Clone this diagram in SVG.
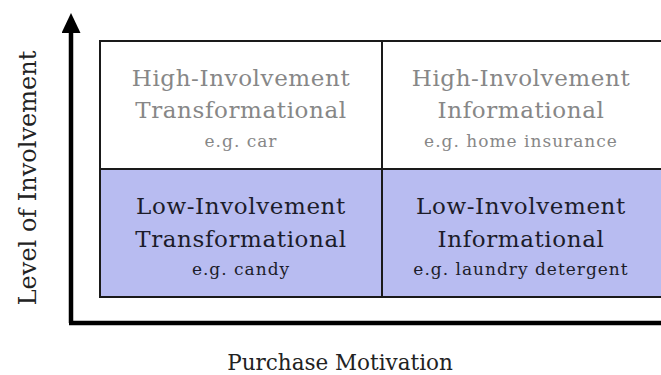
<svg xmlns="http://www.w3.org/2000/svg" width="661" height="375" viewBox="0 0 661 375">
  <style>
    .cell { stroke: #1a1a1a; stroke-width: 2; }
    .hi { fill: #ffffff; }
    .lo { fill: #b8bcf1; }
    .t { font-family: "DejaVu Serif", "Liberation Serif", serif; text-anchor: middle; }
    .big { font-size: 23px; letter-spacing: 0.6px; }
    .small { font-size: 17px; letter-spacing: 1px; }
    .gray { fill: #878787; }
    .dark { fill: #1c1c2a; }
    .axis { font-family: "DejaVu Serif", "Liberation Serif", serif; fill: #222; text-anchor: middle; }
  </style>
  <defs>
    <marker id="arrow" markerWidth="20" markerHeight="20" refX="0" refY="9.5" orient="auto" markerUnits="userSpaceOnUse">
      <path d="M0,0 L20,9.5 L0,19 Z" fill="#000"/>
    </marker>
  </defs>
  <rect width="661" height="375" fill="#ffffff"/>

  <g id="quadrant-high-transformational">
    <rect class="cell hi" x="100" y="41" width="282" height="128"/>
    <text class="t big gray" x="241" y="86">High-Involvement</text>
    <text class="t big gray" x="241" y="118">Transformational</text>
    <text class="t small gray" x="241" y="147">e.g. car</text>
  </g>
  <g id="quadrant-high-informational">
    <rect class="cell hi" x="382" y="41" width="290" height="128"/>
    <text class="t big gray" x="521" y="86">High-Involvement</text>
    <text class="t big gray" x="521" y="118">Informational</text>
    <text class="t small gray" x="521" y="147">e.g. home insurance</text>
  </g>
  <g id="quadrant-low-transformational">
    <rect class="cell lo" x="100" y="169" width="282" height="128"/>
    <text class="t big dark" x="241" y="214">Low-Involvement</text>
    <text class="t big dark" x="241" y="247">Transformational</text>
    <text class="t small dark" x="241" y="275">e.g. candy</text>
  </g>
  <g id="quadrant-low-informational">
    <rect class="cell lo" x="382" y="169" width="290" height="128"/>
    <text class="t big dark" x="521" y="214">Low-Involvement</text>
    <text class="t big dark" x="521" y="247">Informational</text>
    <text class="t small dark" x="521" y="275">e.g. laundry detergent</text>
  </g>

  <g id="axes">
    <path d="M71,323 L71,33" stroke="#000" stroke-width="4.5" fill="none" marker-end="url(#arrow)"/>
    <path d="M69,323 L661,323" stroke="#000" stroke-width="4.5" fill="none"/>
  </g>

  <g id="axis-labels">
    <text class="axis" x="340" y="370" font-size="21.5">Purchase Motivation</text>
    <text class="axis" font-size="24" transform="translate(36,178) rotate(-90)">Level of Involvement</text>
  </g>
</svg>
